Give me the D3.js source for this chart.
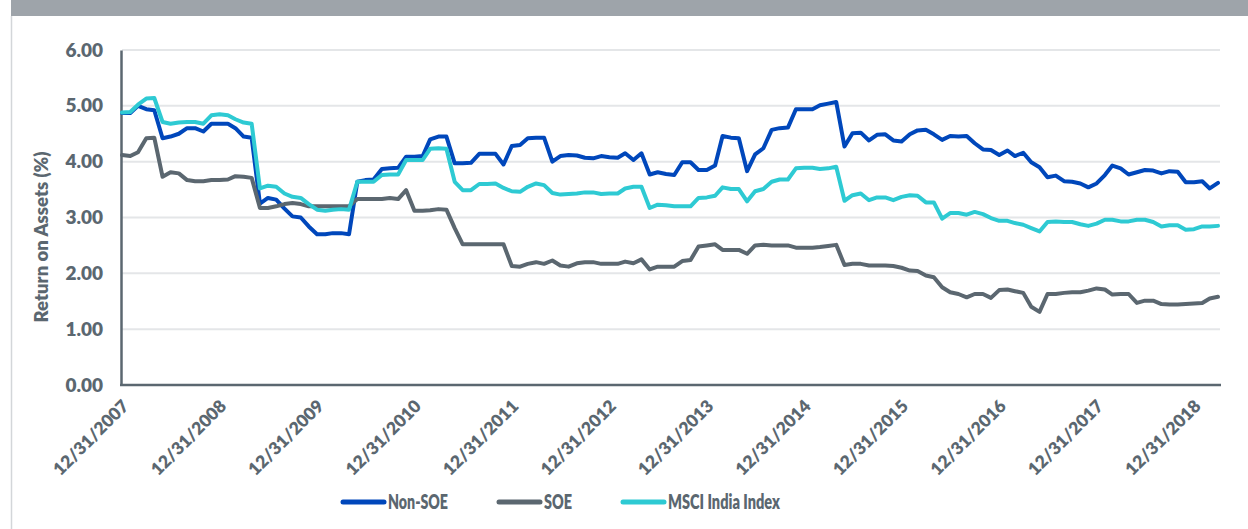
<!DOCTYPE html>
<html>
<head>
<meta charset="utf-8">
<script src="https://cdn.jsdelivr.net/npm/d3@7"></script>
<style>
  html, body { margin: 0; padding: 0; background: #fff; }
  svg { display: block; }
  text { font-family: Lato, "Open Sans", sans-serif; font-weight: 800; fill: #5b6770; }
</style>
</head>
<body>
<svg id="chart" width="1248" height="529"></svg>
<script>
// Month-end return on assets (%), Dec 2007 to Mar 2019
const seriesNames = ["Non-SOE", "SOE", "MSCI India Index"];
const seriesColors = ["#0047bb", "#5b6770", "#2ecad3"];

const nonSOE = [
  4.87,4.87,5.00,4.94,4.92,4.42,4.45,4.50,4.60,4.60,
  4.54,4.68,4.68,4.68,4.60,4.45,4.43,3.25,3.35,3.32,
  3.16,3.02,3.00,2.84,2.70,2.70,2.72,2.72,2.70,3.64,
  3.67,3.68,3.87,3.88,3.89,4.09,4.09,4.10,4.40,4.45,
  4.45,3.97,3.97,3.98,4.14,4.14,4.14,3.95,4.28,4.30,
  4.42,4.43,4.43,4.00,4.10,4.12,4.11,4.07,4.06,4.10,
  4.08,4.07,4.15,4.03,4.15,3.77,3.81,3.78,3.76,3.99,
  3.99,3.85,3.85,3.93,4.46,4.43,4.42,3.83,4.13,4.24,
  4.57,4.60,4.61,4.94,4.94,4.94,5.01,5.04,5.07,4.27,
  4.51,4.52,4.38,4.48,4.49,4.38,4.36,4.49,4.56,4.57,
  4.49,4.39,4.46,4.45,4.46,4.33,4.22,4.21,4.12,4.20,
  4.10,4.16,3.99,3.90,3.72,3.75,3.65,3.64,3.61,3.54,
  3.61,3.76,3.93,3.88,3.77,3.81,3.85,3.84,3.79,3.83,
  3.82,3.63,3.63,3.65,3.52,3.62
];

const soe = [
  4.12,4.10,4.17,4.42,4.43,3.73,3.81,3.79,3.67,3.65,
  3.65,3.67,3.67,3.68,3.74,3.73,3.71,3.17,3.17,3.20,
  3.24,3.26,3.24,3.20,3.20,3.20,3.20,3.20,3.20,3.33,
  3.33,3.33,3.33,3.35,3.33,3.49,3.12,3.12,3.13,3.15,
  3.14,2.81,2.52,2.52,2.52,2.52,2.52,2.52,2.13,2.12,
  2.17,2.20,2.17,2.23,2.14,2.12,2.18,2.20,2.20,2.17,
  2.17,2.17,2.21,2.18,2.25,2.07,2.12,2.12,2.12,2.22,
  2.24,2.48,2.50,2.52,2.42,2.42,2.42,2.35,2.50,2.51,
  2.50,2.50,2.50,2.46,2.46,2.46,2.47,2.49,2.51,2.15,
  2.17,2.17,2.14,2.14,2.14,2.13,2.10,2.05,2.04,1.96,
  1.93,1.75,1.66,1.63,1.57,1.63,1.63,1.56,1.70,1.71,
  1.68,1.65,1.40,1.31,1.63,1.63,1.65,1.66,1.66,1.69,
  1.73,1.71,1.62,1.63,1.63,1.47,1.51,1.51,1.45,1.44,
  1.44,1.45,1.46,1.47,1.55,1.58
];

const msciIndia = [
  4.88,4.89,5.02,5.13,5.14,4.71,4.68,4.70,4.71,4.71,
  4.68,4.83,4.85,4.83,4.76,4.70,4.68,3.52,3.57,3.55,
  3.43,3.37,3.35,3.24,3.14,3.12,3.14,3.15,3.14,3.64,
  3.64,3.64,3.76,3.77,3.77,4.03,4.03,4.03,4.23,4.24,
  4.23,3.64,3.49,3.49,3.60,3.60,3.61,3.53,3.47,3.46,
  3.55,3.61,3.58,3.44,3.41,3.42,3.43,3.45,3.45,3.42,
  3.43,3.43,3.52,3.55,3.55,3.17,3.23,3.22,3.20,3.20,
  3.20,3.35,3.36,3.39,3.54,3.51,3.51,3.29,3.47,3.51,
  3.64,3.68,3.68,3.88,3.89,3.89,3.87,3.88,3.91,3.30,
  3.40,3.43,3.31,3.36,3.36,3.31,3.37,3.40,3.39,3.27,
  3.27,2.98,3.08,3.08,3.05,3.10,3.06,2.99,2.94,2.94,
  2.90,2.87,2.81,2.75,2.92,2.93,2.92,2.92,2.88,2.85,
  2.89,2.96,2.96,2.93,2.93,2.96,2.96,2.92,2.84,2.86,
  2.86,2.78,2.79,2.84,2.84,2.85
];

const yTicks = [0, 1, 2, 3, 4, 5, 6];
const xTickLabels = ["12/31/2007","12/31/2008","12/31/2009","12/31/2010","12/31/2011","12/31/2012",
                     "12/31/2013","12/31/2014","12/31/2015","12/31/2016","12/31/2017","12/31/2018"];

// month-end dates: day 0 of the following month
const dates = nonSOE.map((_, i) => new Date(2008, i, 0));
const parseTick = d3.timeParse("%m/%d/%Y");
const tickDates = xTickLabels.map(parseTick);

const svg = d3.select("#chart");
const W = 1248, H = 529;
const m = { left: 122, right: 1218, top: 50, bottom: 385 };
const FONT = "Lato, 'Open Sans', sans-serif";

// header band and frame edge
svg.append("rect").attr("x", 11).attr("y", 0).attr("width", W - 11).attr("height", 16).attr("fill", "#9ea4aa");
svg.append("line").attr("x1", 11.5).attr("x2", 11.5).attr("y1", 16).attr("y2", H)
   .attr("stroke", "#d3d6d9").attr("stroke-width", 1.5);

const x = d3.scaleTime().domain([dates[0], dates[dates.length - 1]]).range([m.left, m.right]);
const y = d3.scaleLinear().domain([0, 6]).range([m.bottom, m.top]);

// horizontal gridlines
svg.append("g").selectAll("line").data(yTicks.filter(v => v > 0)).join("line")
  .attr("x1", m.left).attr("x2", 1220)
  .attr("y1", d => y(d)).attr("y2", d => y(d))
  .attr("stroke", "#e4e6e8").attr("stroke-width", 2);

// y axis
const yAxis = svg.append("g").attr("transform", `translate(${m.left - 1},0)`)
  .call(d3.axisLeft(y).tickValues(yTicks).tickFormat(d3.format(".2f")).tickSize(0).tickPadding(18));
yAxis.select(".domain").attr("stroke", "#5b6770").attr("stroke-width", 2.5);
yAxis.selectAll("text").attr("font-size", 19).style("font-family", FONT)
  .attr("fill", "#5b6770").style("font-weight", 800);

// x axis
const xAxis = svg.append("g").attr("transform", `translate(0,${m.bottom})`)
  .call(d3.axisBottom(x).tickValues(tickDates).tickFormat((d, i) => xTickLabels[i]).tickSize(0));
xAxis.select(".domain").attr("d", `M${m.left - 2},0H1221`).attr("stroke", "#5b6770").attr("stroke-width", 2.5);
xAxis.selectAll("text")
  .attr("font-size", 17.5).style("font-family", FONT).style("font-weight", 800).attr("fill", "#5b6770")
  .attr("text-anchor", "end")
  .attr("dy", "0.35em").attr("y", 0)
  .attr("transform", "translate(3,18) rotate(-45)");

// y axis title
svg.append("text")
  .attr("transform", "translate(48,237) rotate(-90)")
  .attr("text-anchor", "middle")
  .style("font-size", "18.5px")
  .text("Return on Assets (%)");

// series lines
const seriesData = [nonSOE, soe, msciIndia];
const line = d3.line().x((d, i) => x(dates[i])).y(d => y(d));
svg.append("g").selectAll("path").data(seriesData).join("path")
  .attr("d", d => line(d))
  .attr("fill", "none")
  .attr("stroke", (d, i) => seriesColors[i])
  .attr("stroke-width", 4)
  .attr("stroke-linejoin", "round")
  .attr("stroke-linecap", "round");

// legend
const legendX = [343, 499, 623];
const legendW = [60, 28, 112];
const lg = svg.append("g").selectAll("g").data(seriesNames).join("g")
  .attr("transform", (d, i) => `translate(${legendX[i]},502)`);
lg.append("line").attr("x1", 0).attr("x2", 41).attr("y1", 0).attr("y2", 0)
  .attr("stroke", (d, i) => seriesColors[i]).attr("stroke-width", 5).attr("stroke-linecap", "round");
lg.append("text").attr("x", 45).attr("y", 0).attr("dy", "0.36em")
  .style("font-size", "20px")
  .attr("textLength", (d, i) => legendW[i]).attr("lengthAdjust", "spacingAndGlyphs")
  .text(d => d);
</script>
</body>
</html>
